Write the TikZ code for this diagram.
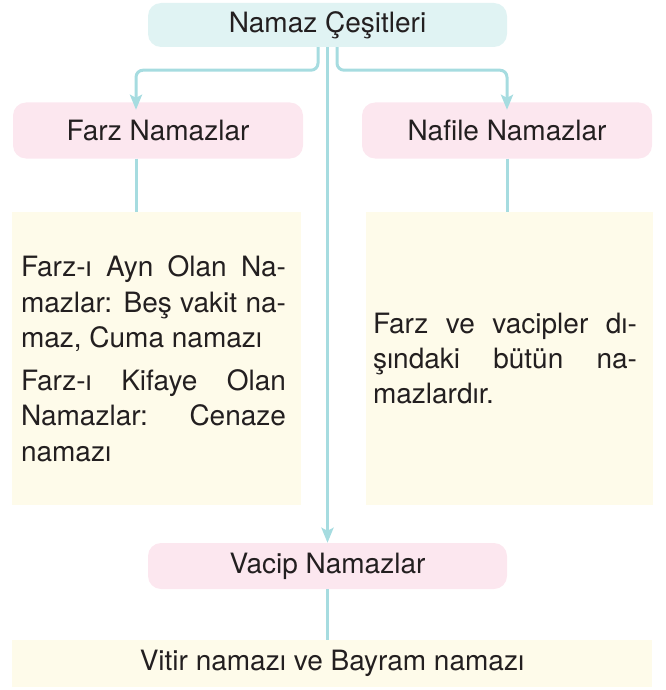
\documentclass[tikz,border=0pt]{standalone}
\usepackage{fontspec}
\setmainfont{TeX Gyre Heros}
\usepackage{tikz}
\usetikzlibrary{positioning}
\usetikzlibrary{arrows.meta}
\definecolor{hatrenk}{HTML}{A6DCE0}
\definecolor{kokrenk}{HTML}{E0F3F3}
\definecolor{pembe}{HTML}{FCE7EF}
\definecolor{sari}{HTML}{FEFBEA}
\definecolor{yazi}{HTML}{231F20}
\tikzset{
    baslik/.style={rounded corners=13pt, text=yazi, inner sep=0pt,
        font=\fontsize{28}{34}\selectfont},
    aciklama/.style={fill=sari, text=yazi, inner sep=0pt,
        font=\fontsize{28}{35.5}\selectfont},
    hat/.style={draw=hatrenk, line width=3pt},
    ok/.style={hat, -{Stealth[length=15pt, width=12pt, inset=3pt]}}
}

\begin{document}
\begin{tikzpicture}[x=1pt,y=-1pt]
    \useasboundingbox (0,0) rectangle (665,690);
    \begin{scope}[every node/.style={baslik}]
        \node[fill=kokrenk, minimum width=359pt, minimum height=44pt] (namaz) at (327.5,25) {Namaz Çeşitleri};
        \node[fill=pembe, minimum width=290pt, minimum height=56pt] (farz) at (158,130.5) {Farz Namazlar};
        \node[fill=pembe, minimum width=290pt, minimum height=56pt] (nafile) at (507,130.5) {Nafile Namazlar};
        \node[fill=pembe, minimum width=359pt, minimum height=46pt] (vacip) at (327.5,566) {Vacip Namazlar};
    \end{scope}
    \node[aciklama, minimum width=289pt, minimum height=293pt] (farzlar) at (156.5,358.5)
        {\parbox{265pt}{Farz-ı Ayn Olan Na-\linebreak mazlar: Beş vakit na-\linebreak maz, Cuma namazı\par\vspace{7pt}%
         Farz-ı Kifaye Olan\linebreak Namazlar: Cenaze\linebreak namazı}\kern6pt};
    \node[aciklama, minimum width=287pt, minimum height=293pt] (nafileler) at (509.5,358.5)
        {\parbox{264pt}{Farz ve vacipler dı-\linebreak şındaki bütün na-\linebreak mazlardır.}\kern9pt};
    \node[aciklama, minimum width=640pt, minimum height=47pt] (vacipler) at (332,663.5)
        {Vitir namazı ve Bayram namazı};
    %Lines
    \draw[ok, rounded corners=7pt] ([xshift=-9.5pt]namaz.south) -- ++(0,23) -| ([xshift=-22pt, yshift=-7.5pt]farz.north);
    \draw[ok, rounded corners=7pt] ([xshift=9.5pt]namaz.south) -- ++(0,23) -| ([yshift=-7.5pt]nafile.north);
    \draw[ok] (namaz.south) -- (vacip.north);
    \draw[hat] ([xshift=-22pt]farz.south) -- ([xshift=-22pt]farz.south |- farzlar.north)
               (nafile.south) -- (nafile.south |- nafileler.north)
               (vacip.south) -- (vacip.south |- vacipler.north);
\end{tikzpicture}
\end{document}
